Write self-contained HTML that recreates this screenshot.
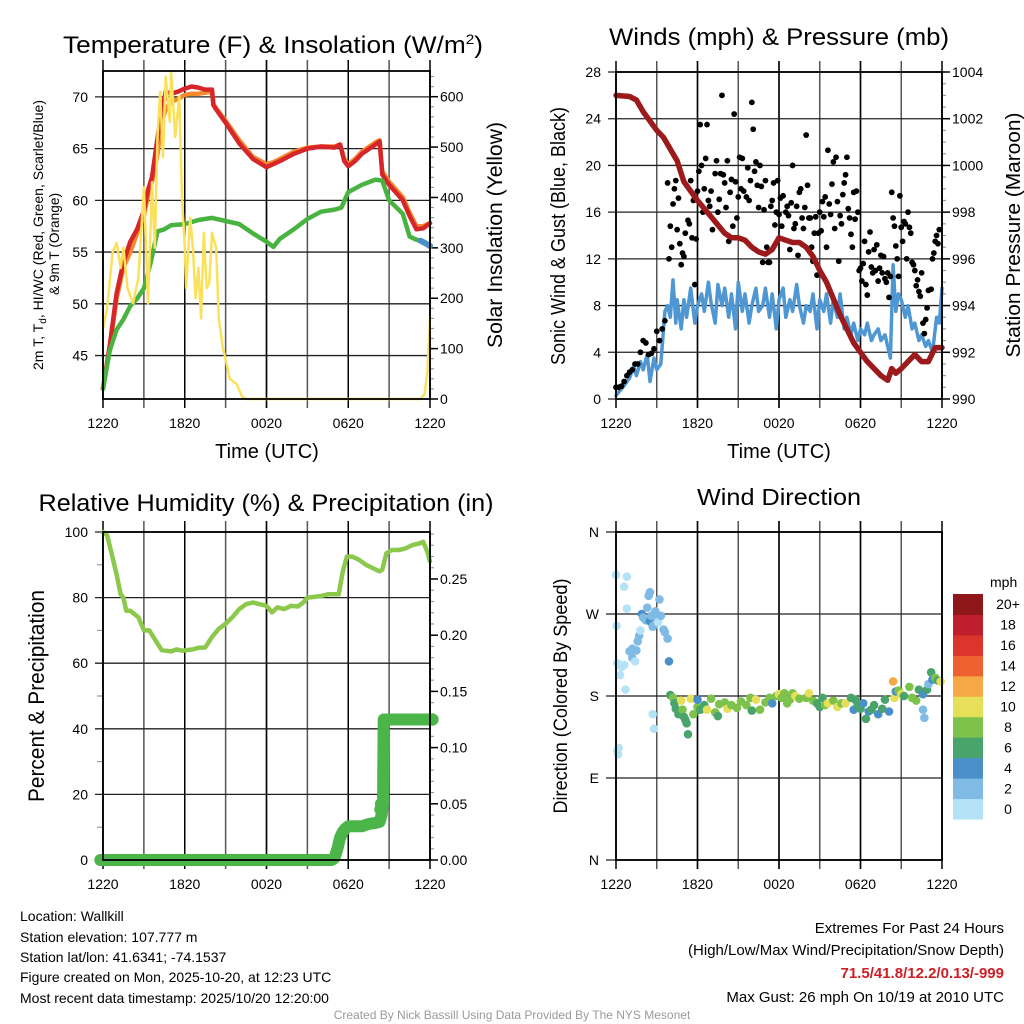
<!DOCTYPE html>
<html><head><meta charset="utf-8"><style>
html,body{margin:0;padding:0;background:#fff;}
svg{display:block;font-family:"Liberation Sans",Arial,sans-serif;}
</style></head><body>
<svg id="fig" width="1024" height="1024" viewBox="0 0 1024 1024" xmlns="http://www.w3.org/2000/svg">
<text x="273" y="53" font-size="24" text-anchor="middle" textLength="420" lengthAdjust="spacingAndGlyphs">Temperature (F) &amp; Insolation (W/m<tspan dy="-9" font-size="14">2</tspan><tspan dy="9">)</tspan></text>
<text x="779" y="45" font-size="24" text-anchor="middle" textLength="340" lengthAdjust="spacingAndGlyphs">Winds (mph) &amp; Pressure (mb)</text>
<text x="266" y="511" font-size="24" text-anchor="middle" textLength="455" lengthAdjust="spacingAndGlyphs">Relative Humidity (%) &amp; Precipitation (in)</text>
<text x="779" y="505" font-size="23" text-anchor="middle" textLength="164" lengthAdjust="spacingAndGlyphs">Wind Direction</text>

<text x="267" y="458" font-size="20" text-anchor="middle">Time (UTC)</text>
<text x="779" y="458" font-size="20" text-anchor="middle">Time (UTC)</text>
<text transform="translate(43,235) rotate(-90)" font-size="14" text-anchor="middle" textLength="270" lengthAdjust="spacingAndGlyphs">2m T, T<tspan font-size="10" dy="3">d</tspan><tspan dy="-3">, HI/WC (Red, Green, Scarlet/Blue)</tspan></text>
<text transform="translate(59,244) rotate(-90)" font-size="14" text-anchor="middle" textLength="102" lengthAdjust="spacingAndGlyphs">&amp; 9m T (Orange)</text>
<text transform="translate(502,235) rotate(-90)" font-size="21" text-anchor="middle" textLength="226" lengthAdjust="spacingAndGlyphs">Solar Insolation (Yellow)</text>
<text transform="translate(565,236) rotate(-90)" font-size="20" text-anchor="middle" textLength="258" lengthAdjust="spacingAndGlyphs">Sonic Wind &amp; Gust (Blue, Black)</text>
<text transform="translate(1020,235) rotate(-90)" font-size="20" text-anchor="middle" textLength="245" lengthAdjust="spacingAndGlyphs">Station Pressure (Maroon)</text>
<text transform="translate(44,696) rotate(-90)" font-size="22" text-anchor="middle" textLength="212" lengthAdjust="spacingAndGlyphs">Percent &amp; Precipitation</text>
<text transform="translate(567,696) rotate(-90)" font-size="19" text-anchor="middle" textLength="235" lengthAdjust="spacingAndGlyphs">Direction (Colored By Speed)</text>

<g font-size="14">
<text x="20" y="921">Location: Wallkill</text>
<text x="20" y="942">Station elevation: 107.777 m</text>
<text x="20" y="962">Station lat/lon: 41.6341; -74.1537</text>
<text x="20" y="982">Figure created on Mon, 2025-10-20, at 12:23 UTC</text>
<text x="20" y="1003">Most recent data timestamp: 2025/10/20 12:20:00</text>
</g>
<g font-size="15" text-anchor="end">
<text x="1004" y="933">Extremes For Past 24 Hours</text>
<text x="1004" y="955">(High/Low/Max Wind/Precipitation/Snow Depth)</text>
<text x="1004" y="978" fill="#cc1f26" font-weight="bold">71.5/41.8/12.2/0.13/-999</text>
<text x="1004" y="1002">Max Gust: 26 mph On 10/19 at 2010 UTC</text>
</g>
<text x="512" y="1019" font-size="12" fill="#9a9a9a" text-anchor="middle">Created By Nick Bassill Using Data Provided By The NYS Mesonet</text>
</svg>
<script>
// ---------- data ----------
const xTickLabels = ["1220","1820","0020","0620","1220"];
// Panel 1: temperature
const tempT = [0,0.5,1,1.5,2,2.5,3,3.3,3.6,4,4.3,4.6,5,5.5,6,6.5,7,7.5,8,8.1,8.3,9,10,11,12,12.5,13,14,15,16,17,17.4,17.7,18,18.5,19,20,20.3,20.5,21,22,22.5,23,23.5,24];
const tempRed = [41.8,46,51,54,56,57.2,59,61,62.3,66,68.5,70.5,70.3,70.5,70.8,71,70.9,70.7,70.7,69.2,68.8,67.5,65.5,64,63.2,63.5,63.8,64.5,65,65.2,65.1,65.4,63.8,63.3,63.8,64.5,65.4,65.7,62.5,61.5,60,58.5,57.2,57.3,57.8];
const tempOrange = [41.8,45.8,50.5,53.5,55,56.8,58.5,60.5,61.8,64.5,67.5,68.8,69.5,69.8,70.2,70.3,70.3,70.4,70.5,69.3,68.9,67.7,65.8,64.2,63.5,63.7,64,64.7,65.1,65.2,65.2,65.4,64,63.5,64,64.7,65.6,65.8,62.8,61.8,60.3,58.8,57.5,57.5,57.8];
const dewT = [0,0.5,1,1.5,2,2.5,3,3.5,4,4.5,5,6,7,8,9,10,11,12,12.5,13,14,15,16,17,17.5,18,19,20,20.5,21,22,22.5,23,23.5,24];
const dewGreen = [41.8,45.5,47.5,48.5,49.8,50.5,51.5,54,57,57.2,57.6,57.7,58.1,58.3,58,57.7,56.8,56,55.5,56.3,57.2,58.2,58.9,59.1,59.3,60.8,61.5,62,61.9,60,58.7,56.5,56.2,56,55.5];
const chillT = [23.3,23.6,24];
const chillBlue = [56.1,55.9,55.6];
const solarT = [0,0.3,0.7,1.0,1.3,1.5,1.8,2.2,2.6,3.0,3.3,3.6,3.8,4.0,4.2,4.4,4.6,4.9,5.0,5.3,5.6,5.8,6.0,6.1,6.4,6.6,6.8,7.0,7.2,7.4,7.6,7.8,8.0,8.3,8.5,8.8,9.0,9.3,9.8,10.2,10.5,23.3,23.6,23.8,24];
const solarVal = [140,180,290,310,260,300,220,190,240,420,190,430,300,520,610,480,640,550,650,520,600,400,300,220,360,300,200,260,160,330,220,230,330,300,160,100,80,40,30,5,0,0,10,50,160];
// Panel 2: winds & pressure
const presT = [0,1,1.5,2,3,3.5,4,4.5,5,5.5,6,7,8,8.5,9,9.5,10,10.5,11,11.5,12,12.5,13,13.5,14,14.5,15,15.5,16,16.5,17,17.5,18,18.5,19,19.5,20,20.3,20.6,21,21.5,22,22.5,23,23.5,24];
const presVal = [1003,1002.95,1002.8,1002.3,1001.5,1001.2,1000.7,1000.2,999.3,998.9,998.5,997.8,997.1,996.9,996.9,996.8,996.5,996.3,996.2,996.4,996.9,996.8,996.7,996.7,996.5,996.1,995.5,995,994.3,993.6,993,992.4,992,991.6,991.3,991,990.8,991.3,991.1,991.3,991.6,991.9,991.6,991.6,992.2,992.2];
const windT = [0,0.5,1,1.3,1.5,1.8,2,2.3,2.5,2.8,3,3.3,3.6,3.8,4,4.2,4.4,4.5,4.8,5,5.2,5.5,5.8,6,6.3,6.5,6.8,7,7.3,7.5,7.8,8,8.3,8.5,8.8,9,9.3,9.5,9.8,10,10.3,10.5,10.8,11,11.3,11.5,11.8,12,12.3,12.5,12.8,13,13.3,13.5,13.8,14,14.3,14.5,14.8,15,15.3,15.5,15.8,16,16.3,16.5,16.8,17,17.3,17.5,17.8,18,18.3,18.5,18.8,19,19.3,19.5,19.8,20,20.2,20.4,20.6,20.8,21,21.3,21.5,21.8,22,22.3,22.5,22.8,23,23.3,23.6,23.8,24];
const windVal = [0.3,1,1.8,2.8,2,3.2,2.5,3.8,1.5,3.5,2.5,3,7.5,8,7,10.2,6.5,8.5,6,8.5,7,9.5,6.5,8,9,7.5,10,8.2,6.5,9.8,8,9.5,7,9,6,10,7.5,9,6.5,8,9.5,7.5,8,9.5,7,9,6,8.5,9.5,7,8.5,7.5,9.8,8,6.5,8,7.5,9,6,8.5,7.5,9,6.5,8.5,7,9,6,7,5.5,6.5,5,6,5.5,6.5,5,5.5,6,5,5.5,4.5,3.5,11.5,7.5,9,8.5,7,8,6,6.5,5,5.5,4.5,5,4,7,6.5,9.5];
const gustT = [0,0.2,0.4,0.6,0.8,1,1.2,1.4,1.6,1.8,2,2.2,2.4,2.6,2.8,3,3.2,3.4,3.6,3.8,3.9,4.0,4.1,4.2,4.3,4.4,4.5,4.6,4.7,4.8,4.9,5.0,5.1,5.3,5.4,5.5,5.6,5.7,5.8,5.9,6.0,6.1,6.2,6.3,6.4,6.5,6.6,6.7,6.8,6.9,7.0,7.1,7.3,7.4,7.5,7.6,7.7,7.8,7.9,8.0,8.1,8.2,8.3,8.4,8.5,8.6,8.7,8.8,8.9,9.0,9.1,9.2,9.3,9.4,9.6,9.7,9.8,9.9,10.0,10.1,10.2,10.3,10.4,10.5,10.6,10.7,10.8,10.9,11.0,11.1,11.2,11.3,11.4,11.5,11.6,11.7,11.8,11.9,12.0,12.1,12.2,12.3,12.5,12.6,12.7,12.8,12.9,13.0,13.1,13.2,13.3,13.4,13.5,13.6,13.7,13.8,13.9,14.0,14.1,14.2,14.3,14.4,14.5,14.6,14.7,14.8,14.9,15.0,15.1,15.2,15.3,15.4,15.5,15.6,15.7,15.8,15.9,16.0,16.1,16.2,16.3,16.4,16.5,16.6,16.7,16.8,16.9,17.0,17.1,17.2,17.3,17.4,17.5,17.6,17.7,17.8,17.9,18.0,18.1,18.2,18.3,18.4,18.5,18.6,18.7,18.8,18.9,19.0,19.1,19.2,19.3,19.4,19.5,19.6,19.7,19.8,19.9,20.0,20.1,20.2,20.3,20.4,20.5,20.6,20.7,20.8,20.9,21.0,21.1,21.2,21.3,21.4,21.5,21.6,21.7,21.8,21.9,22.0,22.1,22.2,22.3,22.4,22.5,22.6,22.7,22.8,22.9,23.0,23.2,23.3,23.4,23.5,23.6,23.7,23.8];
const gustVal = [1,1,1.1,1.5,2,2.3,2.5,3,3,4,5,4.8,3.8,3.9,4.3,5.8,5,6,6.7,18.5,12,14.8,13,16.7,18,18.7,14.5,17.2,13.3,11.5,12.5,12.2,14.2,15.3,15,18.7,13.8,17,9.8,13.7,17.8,19.5,23.5,20,16,18,20.6,23.5,17,16.5,17.8,14.5,19.3,20.4,16,17.1,19.3,26,19.2,18.5,16.4,20.4,13.5,17.7,18.8,14.8,24.4,18.6,15.5,17.3,20.7,18,20.6,17.8,17.3,19.8,17,18.7,25.4,23.1,19.5,20.3,18.3,16.4,20,18.2,11.7,16.2,18.7,13,11.7,11.7,16.5,17,18.5,14.9,16,18.7,15.8,17.2,14.8,17.4,16,16.5,15.7,12.8,16.8,20,14.6,15,16.5,12.3,17.7,18,15.5,14.6,16.4,22.6,18.3,15.5,15.5,13,11.8,14.2,15.6,10.6,14.2,16,14.4,16.9,15.6,17.3,13,21.3,16.7,15.8,18.4,20.3,14.6,20.7,16.9,11.8,15.7,15,17.5,18.5,19.2,20.7,16.3,15.5,14.1,13,17.7,15.4,17.8,16,11,11.2,10.1,11.6,13.5,9.8,8.9,12.6,14.3,11.3,10.8,12.8,11,13.2,10.1,11.2,12.3,10.8,12.2,10.3,10,10.8,8.7,10.5,17.7,15.5,14.8,13.1,12,10.5,17.4,14.7,13.5,15.2,15,12,16,14.7,14.2,11.7,11.5,11,9.7,10.2,9.2,8.8,10.8,6.5,5.6,6.8,7.8,9.3,9.4,12,12.5,13.5,14,13.3,14.5];
// Panel 3: humidity & precipitation
const rhT = [0,0.3,0.6,1.0,1.3,1.5,1.7,2.0,2.3,2.6,2.9,3.0,3.4,3.7,4.0,4.3,4.6,5.0,5.4,5.8,6.2,6.6,7.0,7.5,8.0,8.5,9.0,9.5,10.0,10.5,11.0,11.5,12.0,12.4,12.8,13.3,13.8,14.3,14.7,15.0,15.5,16.0,16.5,17.0,17.3,17.6,17.9,18.3,18.8,19.3,19.8,20.3,20.5,20.8,21.2,21.7,22.2,22.7,23.2,23.5,23.8,24];
const rhVal = [100,99,94,87,81,80,76,76,75,74,71,70,70,68,66,64,63.8,63.6,64.2,63.8,64,64.2,64.7,64.8,68,70.5,72,74,76.5,78,78.5,78,77.5,75.5,77,76.5,77.5,77.3,78.5,80,80.2,80.5,81,81,81,88,92.5,92.5,91.5,90,89,88,88.5,93.5,94.5,94.5,95,96,96.5,97,94,91];
const precipT = [-0.2,16.8,17.0,17.2,17.4,17.6,17.8,18.0,19.0,19.5,20.0,20.3,20.45,20.55,20.6,24.2];
const precipVal = [0,0,0.002,0.01,0.02,0.025,0.028,0.03,0.03,0.032,0.033,0.034,0.04,0.05,0.125,0.125];
// Panel 4: wind direction (deg) colored by speed (mph)
const dirT = [0,0.05,0.1,0.1,0.15,0.2,0.3,0.4,0.6,0.7,0.6,0.8,0.8,1.0,1.2,1.2,1.4,1.5,1.6,1.7,1.8,1.9,2.0,2.2,2.3,2.5,2.5,2.4,2.6,2.7,2.8,2.9,3.0,3.1,3.2,3.3,3.5,3.6,3.8,3.9,2.7,2.8,4.0,4.2,4.3,4.4,4.6,4.8,4.9,5.0,5.1,5.2,5.3,5.5,5.7,6.0,6.2,6.0,6.5,6.7,7.0,7.3,7.5,7.6,8.0,8.2,8.5,8.9,9.2,9.6,9.9,10.0,10.3,10.6,11.0,11.3,11.5,11.8,12.0,12.2,12.4,12.6,12.8,13.0,13.2,13.5,14.0,14.2,14.5,14.8,15.0,15.2,15.4,15.6,16.0,16.3,16.6,16.9,17.3,17.5,17.6,17.8,18.0,18.2,18.4,18.6,18.8,19.0,19.3,19.6,19.8,20.1,20.4,20.5,20.6,20.8,21.0,21.2,21.6,21.8,22.1,22.3,22.6,22.6,22.7,22.9,23.0,23.2,23.3,23.5,23.7,23.9];
const dirDeg = [313,257,216,120,116,123,203,212,214,187,300,311,276,229,232,222,218,230,240,246,252,270,266,263,277,262,294,290,268,256,258,273,266,261,286,268,253,250,243,218,160,144,181,178,172,166,160,175,165,157,154,150,138,177,160,168,165,176,170,165,177,162,158,171,173,166,170,167,174,170,178,164,176,165,173,178,172,180,182,178,183,172,176,183,180,177,178,183,175,172,168,178,170,172,175,168,172,172,178,165,176,170,166,172,155,163,165,170,160,166,176,163,196,178,185,186,182,180,190,178,175,187,182,165,156,187,193,206,198,200,197,196];
const dirSpd = [1,1,1,1,1,1,1,0.5,1,0,1,0,0.5,2,2,2,0.5,2,2,3,1,4,3,3,2,4,2,2,2,3,2,2,2,1,2,2,2,2,3,4,1,1,7,8,6,7,6,10,8,6,7,6,6,10,8,9,7,4,6,10,8,8,6,8,9,10,8,8,9,9,8,7,10,8,8,9,4,8,10,9,8,8,8,8,10,8,9,10,8,7,6,7,8,10,8,10,8,10,6,4,7,6,6,4,6,4,6,6,4,6,6,4,12,10,4,8,10,6,8,8,8,6,4,2,2,6,2,6,4,8,6,10];
const speedBinLabels = ["0","2","4","6","8","10","12","14","16","18","20+"];
const speedBinColors = ["#b4e3f7","#7fbbe4","#4a8fc7","#49a46b","#7dc24b","#e5df5a","#f5a845","#ee6130","#dc352b","#bf1e2d","#8f1619"];

// ---------- helpers ----------
const svg = document.getElementById('fig');
const NS = 'http://www.w3.org/2000/svg';
function add(parent, tag, attrs, name, inter) {
  const el = document.createElementNS(NS, tag);
  for (const k in attrs) el.setAttribute(k, attrs[k]);
  
  
  parent.appendChild(el);
  return el;
}
function scaleX(p) { return t => p.x0 + t / 24 * (p.x1 - p.x0); }
function scaleY(p, lo, hi) { return v => p.y1 - (v - lo) / (hi - lo) * (p.y1 - p.y0); }

function drawFrame(p, id) {
  const g = add(svg, 'g', {}, id + '-axes', false);
  const sx = scaleX(p);
  // vertical grid every 3h
  for (let h = 3; h < 24; h += 3) {
    add(g, 'line', {x1: sx(h), x2: sx(h), y1: p.y0 - 11, y2: p.y1 + 9, stroke: '#555', 'stroke-width': 1.5}, id + '-vgrid', false);
  }
  // x labels
  for (let i = 0; i < xTickLabels.length; i++) {
    const x = sx(i * 6);
    add(g, 'line', {x1: x, x2: x, y1: p.y0 - 11, y2: p.y1 + 9, stroke: '#000', 'stroke-width': 1.5}, id + '-x-tick', false);
    const tx = add(g, 'text', {x: x, y: p.y1 + 29, 'font-size': 14, 'text-anchor': 'middle'}, id + '-x-tick-label', false);
    tx.textContent = xTickLabels[i];
  }
  return g;
}
function leftAxis(g, p, id, lo, hi, ticks, labels, gap, gridCol) {
  const sy = scaleY(p, lo, hi);
  ticks.forEach((v, i) => {
    const y = sy(v);
    add(g, 'line', {x1: p.x0 - gap + 4, x2: p.x1, y1: y, y2: y, stroke: gridCol || '#222', 'stroke-width': 1.3}, id + '-hgrid', false);
    const tx = add(g, 'text', {x: p.x0 - gap - 3, y: y + 5, 'font-size': 14, 'text-anchor': 'end'}, id + '-y-tick-label', false);
    tx.textContent = labels[i];
  });
}
function rightAxis(g, p, id, lo, hi, ticks, labels, minorStep) {
  const sy = scaleY(p, lo, hi);
  for (let v = lo; v <= hi + 1e-9; v += minorStep) {
    const y = sy(v);
    add(g, 'line', {x1: p.x1, x2: p.x1 + 4, y1: y, y2: y, stroke: '#999', 'stroke-width': 1.2}, id + '-right-minor-tick', false);
  }
  ticks.forEach((v, i) => {
    const y = sy(v);
    add(g, 'line', {x1: p.x1, x2: p.x1 + 8, y1: y, y2: y, stroke: '#000', 'stroke-width': 1.5}, id + '-right-tick', false);
    const tx = add(g, 'text', {x: p.x1 + 10, y: y + 5, 'font-size': 14}, id + '-right-tick-label', false);
    tx.textContent = labels[i];
  });
}
function border(p, id) {
  add(svg, 'rect', {x: p.x0, y: p.y0, width: p.x1 - p.x0, height: p.y1 - p.y0, fill: 'none', stroke: '#000', 'stroke-width': 1.8}, id + '-frame', false);
}
function path(parent, ts, vs, sx, sy, attrs, name) {
  let d = '';
  for (let i = 0; i < ts.length; i++) d += (i ? 'L' : 'M') + sx(ts[i]).toFixed(1) + ',' + sy(vs[i]).toFixed(1);
  const a = Object.assign({d: d, fill: 'none', 'stroke-linejoin': 'round', 'stroke-linecap': 'round'}, attrs);
  return add(parent, 'path', a, name, false);
}

// ---------- Panel 1 ----------
const P1 = {x0: 103, x1: 430, y0: 71, y1: 399};
(function () {
  const g = drawFrame(P1, 'temperature');
  const tT = [45, 50, 55, 60, 65, 70];
  leftAxis(g, P1, 'temperature', 40.8, 72.5, tT, tT.map(String), 12);
  const sT = [0, 100, 200, 300, 400, 500, 600];
  rightAxis(g, P1, 'insolation', 0, 651, sT, sT.map(String), 20);
  const sx = scaleX(P1), syT = scaleY(P1, 40.8, 72.5), syS = scaleY(P1, 0, 651);
  const s = add(svg, 'g', {}, 'temperature-series', false);
  path(s, tempT, tempOrange, sx, syT, {stroke: '#f58a2c', 'stroke-width': 4.5}, 'temp-9m-orange-line');
  path(s, tempT, tempRed, sx, syT, {stroke: '#d7262a', 'stroke-width': 4.5}, 'temp-2m-red-line');
  path(s, dewT, dewGreen, sx, syT, {stroke: '#49b342', 'stroke-width': 4.5}, 'dewpoint-green-line');
  path(s, chillT, chillBlue, sx, syT, {stroke: '#4a8fc7', 'stroke-width': 6}, 'windchill-blue-line');
  path(s, solarT, solarVal, sx, syS, {stroke: '#fbe15a', 'stroke-width': 2.5}, 'insolation-yellow-line');
  border(P1, 'temperature');
})();

// ---------- Panel 2 ----------
const P2 = {x0: 616, x1: 942, y0: 72, y1: 399};
(function () {
  const g = drawFrame(P2, 'winds');
  const wT = [0, 4, 8, 12, 16, 20, 24, 28];
  leftAxis(g, P2, 'winds', 0, 28, wT, wT.map(String), 12);
  const pT = [990, 992, 994, 996, 998, 1000, 1002, 1004];
  rightAxis(g, P2, 'pressure', 990, 1004, pT, pT.map(String), 0.5);
  const sx = scaleX(P2), syW = scaleY(P2, 0, 28), syP = scaleY(P2, 990, 1004);
  const s = add(svg, 'g', {}, 'winds-series', false);
  path(s, windT, windVal, sx, syW, {stroke: '#4f97d3', 'stroke-width': 3.5}, 'sonic-wind-blue-line');
  for (let i = 0; i < gustT.length; i++) {
    const c = add(s, 'circle', {cx: sx(gustT[i]), cy: syW(gustVal[i]), r: 2.9, fill: '#000'}, 'gust-point', false);
  }
  path(s, presT, presVal, sx, syP, {stroke: '#9c1a1c', 'stroke-width': 5.5}, 'pressure-maroon-line');
  border(P2, 'winds');
})();

// ---------- Panel 3 ----------
const P3 = {x0: 103, x1: 430, y0: 532, y1: 860};
(function () {
  const g = drawFrame(P3, 'humidity');
  const hT = [0, 20, 40, 60, 80, 100];
  const sy0 = scaleY(P3, 0, 100);
  for (let v = 10; v < 100; v += 20) add(g, 'line', {x1: P3.x0 - 6, x2: P3.x0, y1: sy0(v), y2: sy0(v), stroke: '#999', 'stroke-width': 1.2}, 'humidity-minor-tick', false);
  leftAxis(g, P3, 'humidity', 0, 100, hT, hT.map(String), 12);
  const pT = [0, 0.05, 0.10, 0.15, 0.20, 0.25];
  rightAxis(g, P3, 'precip', 0, 0.2918, pT, pT.map(v => v.toFixed(2)), 0.01);
  const sx = scaleX(P3), syH = scaleY(P3, 0, 100), syP = scaleY(P3, 0, 0.2918);
  const s = add(svg, 'g', {}, 'humidity-series', false);
  path(s, precipT, precipVal, sx, syP, {stroke: '#4bb54a', 'stroke-width': 12}, 'precipitation-line');
  [[20.35, 0.045], [20.4, 0.05]].forEach(pt => {
    add(s, 'circle', {cx: sx(pt[0]), cy: syP(pt[1]), r: 6, fill: '#4bb54a'}, 'precipitation-point', false);
  });
  path(s, rhT, rhVal, sx, syH, {stroke: '#8cc84b', 'stroke-width': 4.5}, 'relative-humidity-line');
  border(P3, 'humidity');
})();

// ---------- Panel 4 ----------
const P4 = {x0: 616, x1: 942, y0: 532, y1: 860};
(function () {
  const g = drawFrame(P4, 'direction');
  const dT = [0, 90, 180, 270, 360];
  leftAxis(g, P4, 'direction', 0, 360, dT, ['N', 'E', 'S', 'W', 'N'], 14);
  const sx = scaleX(P4), sy = scaleY(P4, 0, 360);
  const s = add(svg, 'g', {}, 'direction-series', false);
  for (let i = 0; i < dirT.length; i++) {
    const bin = Math.min(10, Math.floor(dirSpd[i] / 2));
    add(s, 'circle', {cx: sx(dirT[i]), cy: sy(dirDeg[i]), r: 4.3, fill: speedBinColors[bin]}, 'direction-point', false);
  }
  border(P4, 'direction');
  // colorbar
  const cb = add(svg, 'g', {}, 'speed-colorbar', false);
  const cbX = 953, cbW = 30, cbTop = 594, cbBot = 819, n = speedBinColors.length, h = (cbBot - cbTop) / n;
  for (let i = 0; i < n; i++) {
    const y = cbBot - (i + 1) * h;
    add(cb, 'rect', {x: cbX, y: y, width: cbW, height: h + 0.5, fill: speedBinColors[i]}, 'colorbar-bin', false);
    const tx = add(cb, 'text', {x: 1008, y: y + h / 2 + 5, 'font-size': 14, 'text-anchor': 'middle'}, 'colorbar-label', false);
    tx.textContent = speedBinLabels[i];
  }
  const u = add(cb, 'text', {x: 990, y: 587, 'font-size': 14}, 'colorbar-units', false);
  u.textContent = 'mph';
})();
</script>
</body></html>
